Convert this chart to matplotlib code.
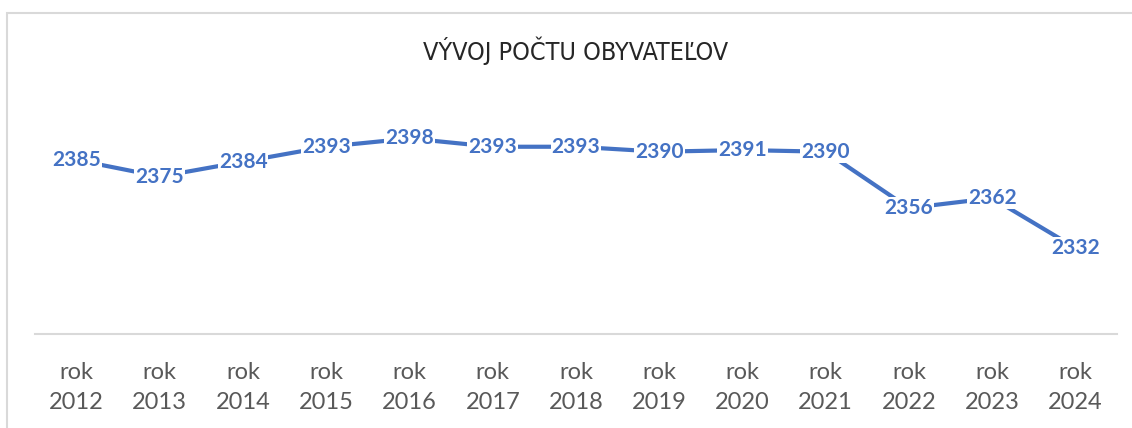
import matplotlib.pyplot as plt
from matplotlib.patches import Rectangle

# data
years = ['2012', '2013', '2014', '2015', '2016', '2017', '2018',
         '2019', '2020', '2021', '2022', '2023', '2024']
population = [2385, 2375, 2384, 2393, 2398, 2393, 2393,
              2390, 2391, 2390, 2356, 2362, 2332]
tick_labels = ['rok\n' + y for y in years]

W, H = 1132, 428
fig = plt.figure(figsize=(W / 100, H / 100), dpi=100)

# chart frame (Excel chart border)
fig.add_artist(Rectangle((7 / W, -0.1), 1.2, (H - 13) / H + 0.1,
                         transform=fig.transFigure, fill=False,
                         edgecolor='#D9D9D9', linewidth=1.5))

ax = fig.add_axes([35 / W, (H - 334) / H, 1082 / W, 232 / H])
x = range(len(years))
ax.plot(x, population, color='#4472C4', linewidth=3, solid_capstyle='round')

for xi, v in zip(x, population):
    ax.text(xi, v, str(v), ha='center', va='center', color='#4472C4',
            fontsize=15, fontweight='bold', family='Lato',
            bbox=dict(boxstyle='square,pad=0.05', facecolor='white', edgecolor='none'))

ax.set_xlim(-0.5, len(years) - 0.5)
ax.set_ylim(2280, 2420)
ax.set_xticks(list(x))
ax.set_xticklabels(tick_labels, fontsize=17, color='#595959', family='Lato',
                   linespacing=1.55)
ax.tick_params(axis='x', length=0, pad=20)
ax.set_yticks([])
for s in ['top', 'right', 'left']:
    ax.spines[s].set_visible(False)
ax.spines['bottom'].set_color('#D9D9D9')
ax.spines['bottom'].set_linewidth(1.5)

fig.text(576 / W, 1 - 51 / H, 'VÝVOJ POČTU OBYVATEĽOV', ha='center', va='center',
         fontsize=18, color='#262626', family='DejaVu Sans', fontstretch='condensed')

fig.savefig('out.png', dpi=100)
